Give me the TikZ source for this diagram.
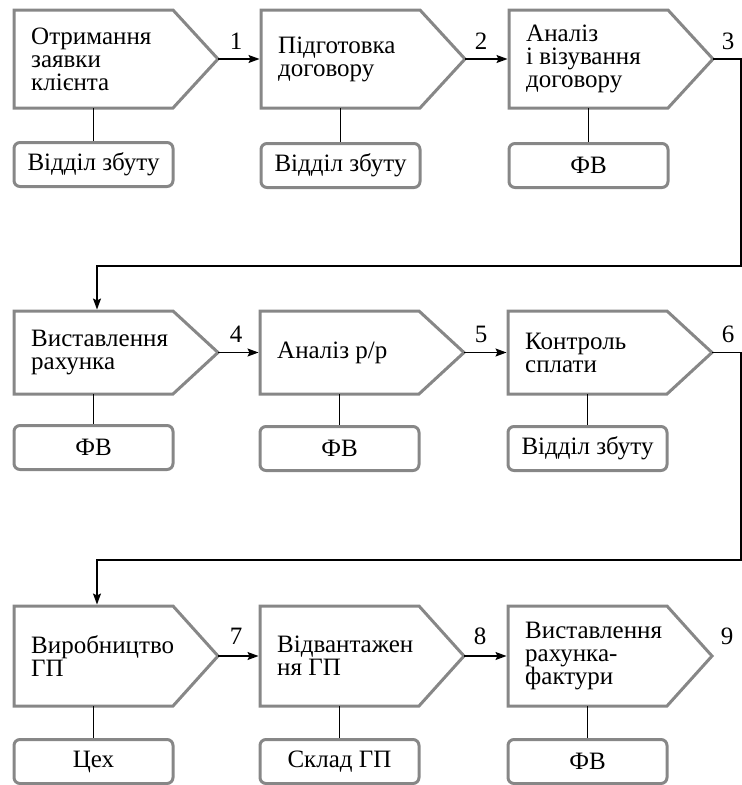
\documentclass[tikz,border=0pt]{standalone}
\usepackage{fontspec}
\setmainfont{Liberation Serif}
\usetikzlibrary{arrows.meta}
\definecolor{framegray}{RGB}{135,135,135}
\tikzset{
  frame/.style={draw=framegray, line width=3pt, line join=miter},
  labelfont/.style={font=\fontsize{25}{23}\selectfont},
  unitbox/.style={draw=framegray, line width=3pt, rounded corners=6pt,
    minimum width=159pt, minimum height=44pt, inner sep=0pt, labelfont},
  stagetext/.style={anchor=west, align=left, inner sep=0pt, labelfont},
  flow/.style={draw=black, line width=1.2pt, shorten >=1.5pt,
    -{Stealth[length=11pt,width=8pt,inset=2pt]}},
  link/.style={draw=black, line width=1.2pt},
  num/.style={labelfont, inner sep=0pt, anchor=base}
}
% #1 name, #2 left x, #3 top y, #4 bottom y, #5 stage text, #6 unit box top, #7 unit text
\newcommand{\stage}[7]{%
  \draw[frame] (#2,#3) -- (#2+159,#3) -- (#2+204,{(#3+#4)/2}) -- (#2+159,#4) -- (#2,#4) -- cycle;
  \coordinate (#1-in)   at (#2,{(#3+#4)/2});
  \coordinate (#1-out)  at (#2+204,{(#3+#4)/2});
  \coordinate (#1-top)  at (#2+83,#3);
  \coordinate (#1-base) at (#2+79.5,#4);
  \node[stagetext] (#1) at (#2+17,{(#3+#4)/2}) {#5};
  \node[unitbox, anchor=north] (#1-unit) at (#2+79.5,#6) {#7};
  \draw[link] (#1-base) -- (#1-unit.north);
}
\begin{document}
\begin{tikzpicture}[x=1pt,y=-1pt]
\useasboundingbox (0,0) rectangle (742,785);

% first row
\stage{p1}{14}{10}{108}{Отримання\\заявки\\клієнта}{141}{Відділ збуту}
\stage{p2}{261}{10}{108}{Підготовка\\договору}{142}{Відділ збуту}
\stage{p3}{509}{10}{108}{Аналіз\\і візування\\договору}{142}{ФВ}

% second row
\stage{p4}{14}{311}{394}{Виставлення\\рахунка}{424}{ФВ}
\stage{p5}{260}{311}{394}{Аналіз р/р}{425}{ФВ}
\stage{p6}{508}{311}{394}{Контроль\\сплати}{425}{Відділ збуту}

% third row
\stage{p7}{14}{606}{706}{Виробництво\\ГП}{738}{Цех}
\stage{p8}{260}{606}{706}{Відвантажен\\ня ГП}{738}{Склад ГП}
\stage{p9}{508}{606}{706}{Виставлення\\рахунка-\\фактури}{738}{ФВ}

% connectors within rows
\draw[flow] (p1-out) -- (p2-in);
\draw[flow] (p2-out) -- (p3-in);
\draw[flow] (p4-out) -- (p5-in);
\draw[flow] (p5-out) -- (p6-in);
\draw[flow] (p7-out) -- (p8-in);
\draw[flow] (p8-out) -- (p9-in);

% returns to the next row
\coordinate (turn1) at (741,266);
\coordinate (turn2) at (741,560);
\draw[flow] (p3-out) -| (turn1) -| (p4-top);
\draw[flow] (p6-out) -| (turn2) -| (p7-top);

% step numbers
\node[num] (n1) at ([xshift=18pt,yshift=10pt]p1-out) {1};
\node[num] (n2) at ([xshift=16pt,yshift=10pt]p2-out) {2};
\node[num] (n3) at ([xshift=15pt,yshift=10pt]p3-out) {3};
\node[num] (n4) at ([xshift=18pt,yshift=10pt]p4-out) {4};
\node[num] (n5) at ([xshift=17pt,yshift=10pt]p5-out) {5};
\node[num] (n6) at ([xshift=16pt,yshift=10pt]p6-out) {6};
\node[num] (n7) at ([xshift=18pt,yshift=12pt]p7-out) {7};
\node[num] (n8) at ([xshift=16pt,yshift=12pt]p8-out) {8};
\node[num] (n9) at ([xshift=15pt,yshift=12pt]p9-out) {9};
\end{tikzpicture}
\end{document}
